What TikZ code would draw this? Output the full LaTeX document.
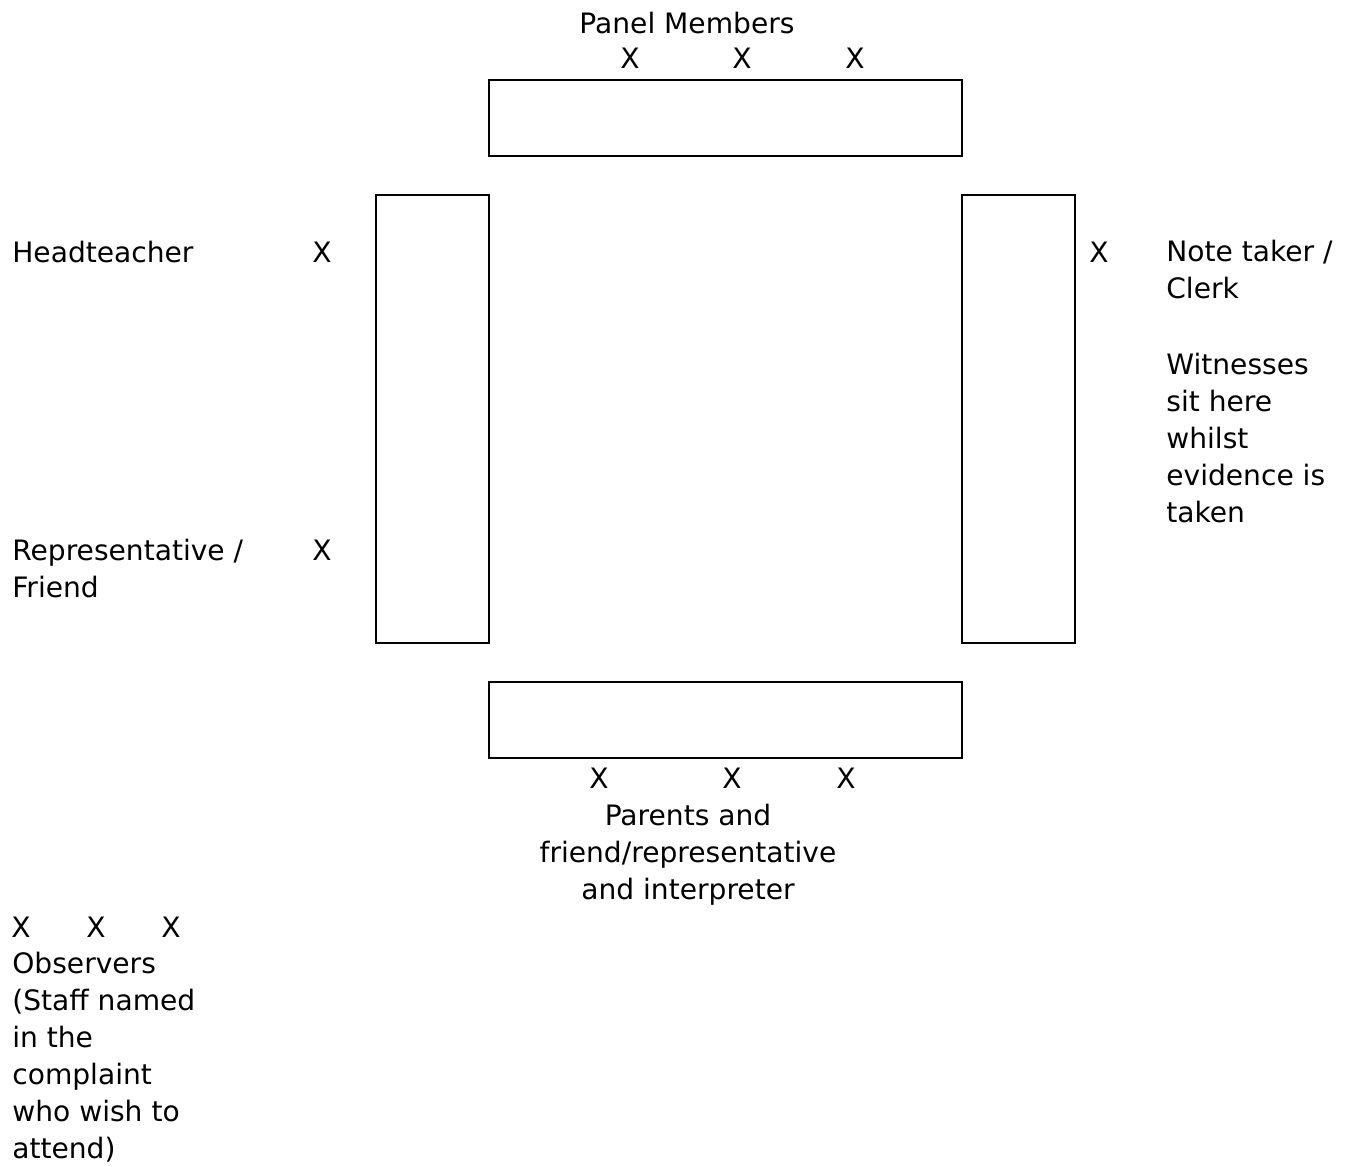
\documentclass[tikz,border=0pt]{standalone}
\usepackage{fontspec}
\setmainfont{DejaVu Sans}
\usepackage{tikz}
\usetikzlibrary{positioning}
\newcommand{\roomfont}{\fontsize{16}{21}\selectfont}
\tikzstyle{desk} = [draw, line width=1.1pt, inner sep=0pt]
\tikzstyle{seat} = [inner sep=0pt, anchor=base, font=\roomfont]
\tikzstyle{note} = [inner sep=0pt, anchor=base west, align=left, font=\roomfont]
\tikzstyle{centernote} = [inner sep=0pt, anchor=base, align=center, font=\roomfont]

\begin{document}
\begin{tikzpicture}[x=0.02cm, y=-0.02cm]
                \useasboundingbox (0,0) rectangle (1360,1167);
                
                % Tables
                \node[desk, minimum width=9.46cm, minimum height=1.52cm] (toptable) at (725.5,118) {};
                \node[desk, minimum width=2.26cm, minimum height=8.96cm] (lefttable) at (432.5,419) {};
                \node[desk, minimum width=2.26cm, minimum height=8.96cm] (righttable) at (1018.5,419) {};
                \node[desk, minimum width=9.46cm, minimum height=1.52cm] (bottomtable) at (725.5,720) {};
                
                % Panel (multi-line nodes sit on their last baseline)
                \node[centernote] (panel) at (687,33) {Panel Members};
                \node[seat] (panelA) at (630,68) {X};
                \node[seat] (panelB) at (742,68) {X};
                \node[seat] (panelC) at (855,68) {X};
                
                % Left side
                \node[note] (head) at (12,262) {Headteacher};
                \node[seat] (headX) at (322,262) {X};
                \node[note] (rep) at (12,597) {Representative /\\Friend};
                \node[seat] (repX) at (322,560) {X};
                
                % Right side
                \node[seat] (clerkX) at (1099,262) {X};
                \node[note] (clerk) at (1166,298) {Note taker /\\Clerk};
                \node[note] (witness) at (1166,522) {Witnesses\\sit here\\whilst\\evidence is\\taken};
                
                % Parents
                \node[seat] (parentA) at (599,788) {X};
                \node[seat] (parentB) at (732,788) {X};
                \node[seat] (parentC) at (846,788) {X};
                \node[centernote] (parents) at (688,899) {Parents and\\friend/representative\\and interpreter};
                
                % Observers
                \node[seat] (obsA) at (21,937) {X};
                \node[seat] (obsB) at (96,937) {X};
                \node[seat] (obsC) at (171,937) {X};
                \node[note] (observers) at (12,1158) {Observers\\(Staff named\\in the\\complaint\\who wish to\\attend)};
            \end{tikzpicture}
\end{document}
